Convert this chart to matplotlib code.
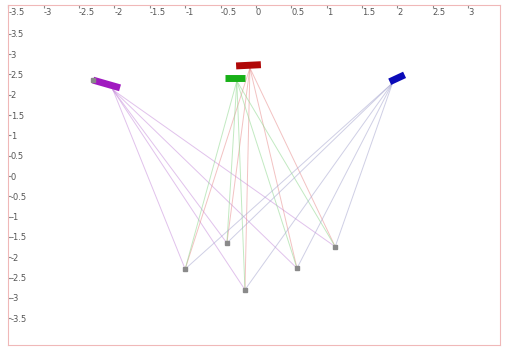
import numpy as np
import matplotlib
matplotlib.use('Agg')
import matplotlib.pyplot as plt

# observed 2D points
pt_x = [-1.00, -0.41, -0.155, 0.58, 1.12]
pt_y = [-2.29, -1.65, -2.80, -2.27, -1.74]

# cameras: optical centre + short bar showing the image plane
cam_names = ['purple', 'red', 'green', 'blue']
cam_cx = [-2.02, -0.085, -0.27, 1.93]
cam_cy = [2.12, 2.66, 2.34, 2.29]
bar_x0 = [-2.30, -0.28, -0.44, 1.89]
bar_y0 = [2.36, 2.71, 2.42, 2.32]
bar_x1 = [-1.92, 0.07, -0.155, 2.10]
bar_y1 = [2.17, 2.74, 2.42, 2.49]
bar_cols = ['#a019c0', '#b00808', '#18b018', '#0a0ab8']
ray_cols = ['#c890dc', '#e89090', '#90d890', '#a8a8d0']

xticks = np.arange(-3.5, 3.01, 0.5)
yticks = np.arange(-3.5, 3.51, 0.5)

fig = plt.figure(figsize=(5.05, 3.51), dpi=100)
ax = fig.add_axes([0.0158, 0.0171, 0.974, 0.9687])

for i in range(len(cam_names)):
    for px, py in zip(pt_x, pt_y):
        ax.plot([cam_cx[i], px], [cam_cy[i], py], color=ray_cols[i], lw=0.7, alpha=0.55, zorder=1)
    ax.plot([bar_x0[i], bar_x1[i]], [bar_y0[i], bar_y1[i]], color=bar_cols[i], lw=5,
            solid_capstyle='butt', zorder=3)

# grey tip on the purple camera
ax.plot(bar_x0[0], bar_y0[0], marker='s', ms=3, color='#888888', zorder=4)

ax.plot(pt_x, pt_y, 's', ms=3, color='#8a8a8a', zorder=2)

ax.set_xlim(-3.503, 3.446)
ax.set_ylim(-4.16, 4.21)
ax.set_xticks(xticks)
ax.set_xticklabels([f'{t:g}' for t in xticks])
ax.set_yticks(yticks)
ax.set_yticklabels([f'{t:g}' for t in yticks])
ax.xaxis.tick_top()
ax.tick_params(axis='x', direction='in', length=2, pad=-2, labelsize=6,
               labelcolor='#555555', color='#888888')
ax.tick_params(axis='y', direction='in', length=2, pad=-2, labelsize=6,
               labelcolor='#555555', color='#888888')
for lbl in ax.get_xticklabels():
    lbl.set_ha('left')
    lbl.set_va('top')
for lbl in ax.get_yticklabels():
    lbl.set_ha('left')

for s in ax.spines.values():
    s.set_color('#f0b8b8')
    s.set_linewidth(0.8)

fig.savefig('out.png', dpi=100)
